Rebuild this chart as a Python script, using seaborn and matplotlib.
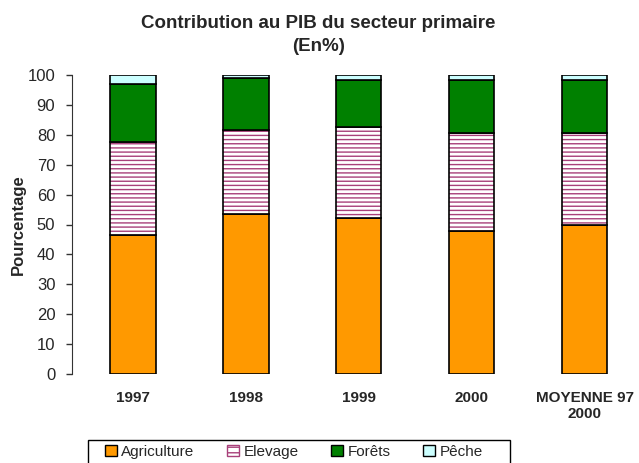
import pandas as pd
import matplotlib
matplotlib.use("Agg")
import matplotlib.pyplot as plt
import seaborn as sns
from matplotlib.patches import Patch, Rectangle

# Data
annees = ["1997", "1998", "1999", "2000", "MOYENNE 97\n2000"]
agriculture = [46.5, 53.5, 52.2, 47.8, 50.0]
elevage = [31.2, 28.1, 30.3, 32.9, 30.7]
forets = [19.3, 17.3, 15.8, 17.6, 17.6]
peche = [3.0, 1.1, 1.7, 1.7, 1.7]

sns.set_style("white")
plt.rcParams['font.family'] = ['Liberation Sans', 'DejaVu Sans']
plt.rcParams['hatch.linewidth'] = 1.0

df = pd.DataFrame({"annee": annees, "Agriculture": agriculture,
                   "Elevage": elevage, "Forêts": forets, "Pêche": peche})

fig = plt.figure(figsize=(6.39, 4.63), dpi=100)
ax = fig.add_axes([72 / 639, 89 / 463, 567 / 639, 299 / 463])

bottom = [0.0] * len(df)
width = 0.4
for col, color in [("Agriculture", "#FF9900"), ("Elevage", "white"),
                   ("Forêts", "#008000"), ("Pêche", "#CCFFFF")]:
    if col == "Elevage":
        # hatch in pink-purple, then a black outline on top
        sns.barplot(data=df, x="annee", y=col, bottom=bottom, color="white",
                    edgecolor="#A8407A", hatch="----", linewidth=0,
                    width=width, ax=ax, saturation=1)
        sns.barplot(data=df, x="annee", y=col, bottom=bottom, color="black",
                    fill=False, edgecolor="black", linewidth=1.2,
                    width=width, ax=ax)
    else:
        sns.barplot(data=df, x="annee", y=col, bottom=bottom, color=color,
                    edgecolor="black", linewidth=1.2, width=width, ax=ax,
                    saturation=1)
    bottom = [b + v for b, v in zip(bottom, df[col])]

ax.set_ylim(0, 100)
ax.set_xlim(-0.54, 4.48)
ax.set_yticks(range(0, 101, 10))
ax.tick_params(axis="y", labelsize=12, length=4, width=1, direction="out",
               left=True, color="#333333", pad=8)
ax.tick_params(axis="x", length=0, labelsize=11, pad=12)
for lab in ax.get_xticklabels():
    lab.set_fontweight("bold")
ax.set_xlabel("")
ax.set_ylabel("Pourcentage", fontsize=12, fontweight="bold", labelpad=1)
for s in ["top", "right", "bottom"]:
    ax.spines[s].set_visible(False)
ax.spines["left"].set_color("#333333")

fig.suptitle("Contribution au PIB du secteur primaire\n(En%)", x=0.498, y=0.968,
             fontsize=13.5, fontweight="bold", linespacing=1.45)

# legend box, running off the bottom edge like the original
fig.patches.append(Rectangle((88 / 639, -10 / 463), 422 / 639, 33 / 463,
                             transform=fig.transFigure, facecolor="white",
                             edgecolor="black", linewidth=1))
handles = [Patch(facecolor="#FF9900", edgecolor="black", label="Agriculture"),
           Patch(facecolor="white", edgecolor="#A8407A", hatch="---", label="Elevage"),
           Patch(facecolor="#008000", edgecolor="black", label="Forêts"),
           Patch(facecolor="#CCFFFF", edgecolor="black", label="Pêche")]
leg = fig.legend(handles=handles, loc="upper left",
                 bbox_to_anchor=(100 / 639, 1 - 440 / 463),
                 ncol=4, frameon=False, fontsize=11,
                 handlelength=0.8, handleheight=0.8, handletextpad=0.3,
                 columnspacing=2.1, borderpad=0.3, borderaxespad=0)

fig.savefig("out.png", dpi=100)
